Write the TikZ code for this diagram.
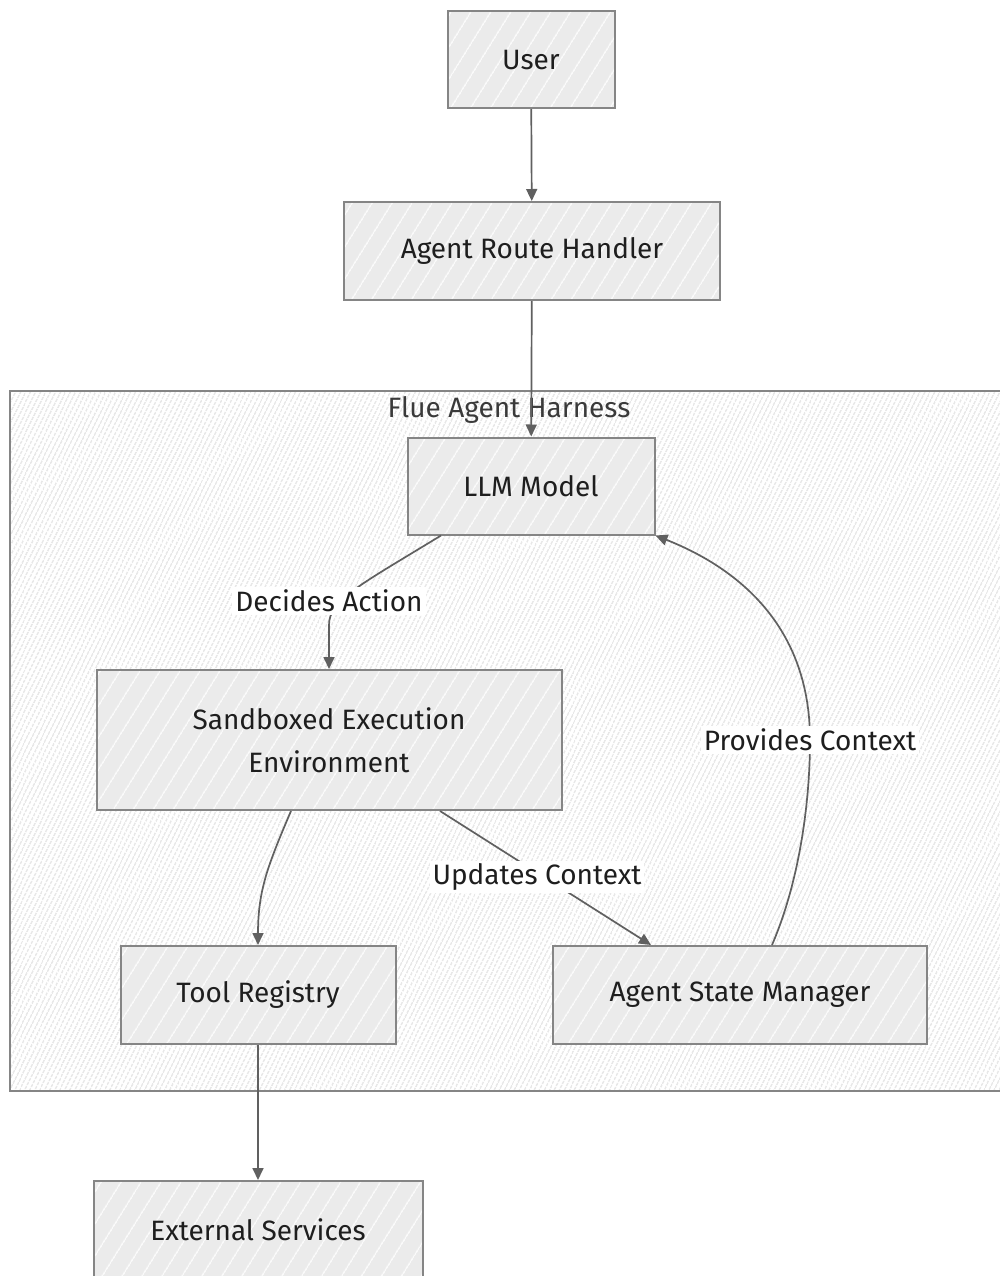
\documentclass[tikz,border=0pt]{standalone}
\usepackage{fontspec}
\setmainfont{Fira Sans}
\usetikzlibrary{arrows.meta,patterns.meta}

\definecolor{boxfill}{HTML}{EBEBEB}
\definecolor{boxline}{HTML}{858585}
\definecolor{edgecol}{HTML}{606060}
\definecolor{ink}{HTML}{1E1E1E}
\definecolor{titleink}{HTML}{3A3A3A}
\definecolor{hatch}{HTML}{BEBEBE}

\newcommand{\lblfont}{\fontsize{28}{43}\selectfont}

\tikzset{
  procbox/.style={draw=boxline, line width=2pt, inner sep=0pt,
    preaction={fill=boxfill},
    pattern={Lines[angle=58,distance=17pt,line width=1.1pt]}, pattern color=white,
    font=\lblfont, text=ink, align=center, minimum height=98pt},
  groupbox/.style={draw=boxline, line width=2pt, inner sep=0pt,
    preaction={fill=white},
    pattern={Lines[angle=64,distance=4pt,line width=0.55pt]}, pattern color=hatch},
  flow/.style={draw=edgecol, line width=1.7pt, -{Triangle[length=12pt,width=11pt]}},
  edgelabel/.style={fill=white, inner sep=3pt, font=\lblfont, text=ink}
}

\begin{document}
\begin{tikzpicture}[x=1pt,y=-1pt]
\useasboundingbox (0,0) rectangle (1000,1276);

% agent harness group
\node[groupbox, minimum width=1000pt, minimum height=700pt] (harness) at (510,741) {};
\node[font=\lblfont, text=titleink] (harnesstitle) at (509,410) {Flue Agent Harness};

% components
\node[procbox, minimum width=167pt, minimum height=97pt] (user) at (531,60) {User};
\node[procbox, minimum width=376pt] (route) at (532,251) {Agent Route Handler};
\node[procbox, minimum width=247pt, minimum height=97pt] (llm) at (531,486) {LLM Model};
\node[procbox, minimum width=465pt, minimum height=140pt] (sandbox) at (329,740) {Sandboxed Execution\\Environment};
\node[procbox, minimum width=275pt] (tools) at (258,995) {Tool Registry};
\node[procbox, minimum width=374pt] (state) at (740,995) {Agent State Manager};
\node[procbox, minimum width=329pt] (external) at (258,1230) {External Services};

% connectors
\draw[flow] (user) -- (route);
\draw[flow] (route) -- (llm);
\draw[flow] ([xshift=-90pt]llm.south) .. controls (360,585) and (329,600) .. (329,625) -- (sandbox.north);
\draw[flow] ([xshift=-38pt]sandbox.south) .. controls (268,865) and (258,890) .. (tools.north);
\draw[flow] ([xshift=111pt]sandbox.south) -- ([xshift=-89pt]state.north);
\draw[flow] ([xshift=32pt]state.north) .. controls (800,880) and (810,800) .. (810,740)
  .. controls (810,620) and (730,565) .. (llm.south east);
\draw[flow] (tools) -- (external);

% connector labels
\node[edgelabel] (lbldecides) at (329,601) {Decides Action};
\node[edgelabel] (lblupdates) at (537,877) {Updates Context};
\node[edgelabel] (lblprovides) at (810,740) {Provides Context};
\end{tikzpicture}
\end{document}
